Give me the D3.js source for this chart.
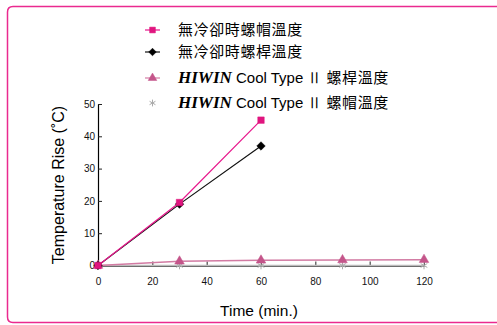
<!DOCTYPE html>
<html lang="zh-Hant">
<head>
<meta charset="UTF-8">
<script src="https://d3js.org/d3.v7.min.js"></script>
<style>
  html,body{margin:0;padding:0;background:#fff;}
  svg text{font-family:"Liberation Sans",Arial,sans-serif;}
  .tick text{font-size:10px;fill:#111;}
  .cjk{font-family:"Noto Sans CJK TC","Noto Sans CJK SC",sans-serif;}
</style>
</head>
<body>
<div id="chart"></div>
<script>
var times = [0, 30, 60, 90, 120];
var noCoolNut = [0, 19.5, 45];
var noCoolScrew = [0, 19, 37];
var hiwinScrew = [0, 1.3, 1.6, 1.7, 1.8];
var hiwinNut = [0, 0, 0, 0, 0];
var xTicks = [0, 20, 40, 60, 80, 100, 120];
var yTicks = [0, 10, 20, 30, 40, 50];
var names = ["無冷卻時螺帽溫度", "無冷卻時螺桿溫度", "螺桿溫度", "螺帽溫度"];

var width = 497, height = 325;
var svg = d3.select("#chart").append("svg")
  .attr("width", width).attr("height", height);

// frame
svg.append("path")
  .attr("d", "M497,6.5 H13 Q7.5,6.5 7.5,12 V317 Q7.5,322.5 13,322.5 H497")
  .attr("fill", "none").attr("stroke", "#ea2a8f").attr("stroke-width", 1.5);

var x = d3.scaleLinear().domain([0, 120]).range([98, 424]);
var y = d3.scaleLinear().domain([0, 50]).range([265.5, 104]);

var xAxis = svg.append("g").attr("transform", "translate(0,265.5)")
  .call(d3.axisBottom(x).tickValues(xTicks).tickSizeInner(-4).tickSizeOuter(0).tickPadding(12));
xAxis.select(".domain").attr("stroke", "#555").attr("stroke-width", 2);
xAxis.selectAll(".tick line").attr("stroke", "#222");

var yAxis = svg.append("g").attr("transform", "translate(98,0)")
  .call(d3.axisLeft(y).tickValues(yTicks).tickSizeInner(-4).tickSizeOuter(0).tickPadding(3));
yAxis.select(".domain").attr("stroke", "#000").attr("stroke-width", 1.2);
yAxis.selectAll(".tick line").attr("stroke", "#222");
yAxis.select(".tick:first-of-type line").remove();
xAxis.select(".tick:first-of-type line").remove();

svg.append("text").attr("x", 259).attr("y", 316).attr("text-anchor", "middle")
  .attr("font-size", 15.5).text("Time (min.)");
svg.append("text").attr("transform", "translate(64,185) rotate(-90)")
  .attr("text-anchor", "middle").attr("font-size", 16).text("Temperature Rise (˚C)");

var line = d3.line().x(function(d){ return x(d[0]); }).y(function(d){ return y(d[1]); });

var series = [
  {vals: noCoolNut, color: "#e8178c", mark: "#e0157f", sym: d3.symbolSquare, size: 42, rot: 0},
  {vals: noCoolScrew, color: "#111", mark: "#000", sym: d3.symbolSquare, size: 36, rot: 45},
  {vals: hiwinScrew, color: "#d27ba3", mark: "#c4558a", sym: d3.symbolTriangle, size: 40, rot: 0},
  {vals: hiwinNut, color: "#bbb", mark: "#aaa", sym: d3.symbolAsterisk, size: 40, rot: 0}
];

// draw later series first so no-cool lines sit on top
[3, 2, 1, 0].forEach(function(i){
  var s = series[i];
  var pts = s.vals.map(function(v, k){ return [times[k], v]; });
  svg.append("path").datum(pts).attr("d", line)
    .attr("fill", "none").attr("stroke", s.color).attr("stroke-width", i < 2 ? 1.2 : 1.5);
  svg.selectAll(".m" + i).data(pts).enter().append("path")
    .attr("class", "m" + i)
    .attr("transform", function(d){ return "translate(" + x(d[0]) + "," + y(d[1]) + ") rotate(" + s.rot + ")"; })
    .attr("d", d3.symbol().type(s.sym).size(s.size))
    .attr("fill", s.sym === d3.symbolAsterisk ? "none" : s.mark)
    .attr("stroke", s.mark).attr("stroke-width", s.sym === d3.symbolAsterisk ? 1 : 0.5);
});

// legend
var legY = [30, 52, 78, 103];
legY.forEach(function(ly, i){
  var s = series[i];
  if (i !== 3) {
    svg.append("line").attr("x1", 145).attr("x2", 160).attr("y1", ly).attr("y2", ly)
      .attr("stroke", s.color).attr("stroke-width", 1.2);
  }
  svg.append("path").attr("transform", "translate(152.5," + ly + ") rotate(" + s.rot + ")")
    .attr("d", d3.symbol().type(s.sym).size(s.size * 0.8))
    .attr("fill", s.sym === d3.symbolAsterisk ? "none" : s.mark)
    .attr("stroke", s.mark).attr("stroke-width", s.sym === d3.symbolAsterisk ? 1 : 0.5);
  var t = svg.append("text").attr("x", 178).attr("y", ly + 5).attr("font-size", 15);
  if (i < 2) {
    t.attr("class", "cjk").attr("letter-spacing", 0.6).text(names[i]);
  } else {
    t.append("tspan").attr("font-family", "Liberation Serif,serif").attr("font-weight", "bold")
      .attr("font-style", "italic").attr("font-size", 17).text("HIWIN");
    t.append("tspan").text(" Cool Type ");
    t.append("tspan").attr("font-family", "Liberation Serif,serif").text("Ⅱ");
    t.append("tspan").attr("class", "cjk").attr("letter-spacing", 0.6).text(" " + names[i]);
  }
});
</script>
</body>
</html>
